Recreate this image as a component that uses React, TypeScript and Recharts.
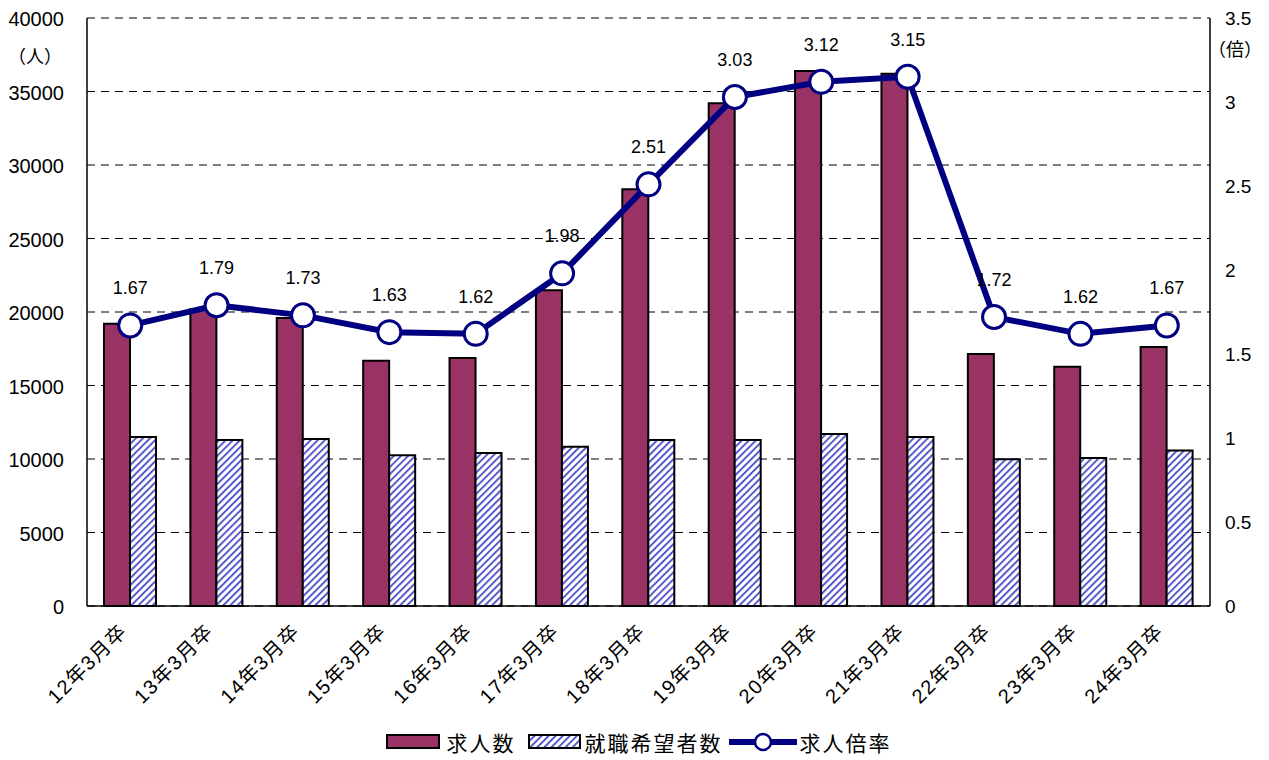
import React from "react";
import {
  ComposedChart,
  Bar,
  Line,
  XAxis,
  YAxis,
  CartesianGrid,
  Legend,
  LabelList,
  Label,
} from "recharts";

const categories = [
  "12年3月卒", "13年3月卒", "14年3月卒", "15年3月卒", "16年3月卒", "17年3月卒", "18年3月卒",
  "19年3月卒", "20年3月卒", "21年3月卒", "22年3月卒", "23年3月卒", "24年3月卒",
];
const openings = [19200, 20200, 19600, 16680, 16870, 21480, 28350, 34200, 36400, 36200, 17150, 16280, 17620];
const applicants = [11500, 11290, 11360, 10250, 10410, 10840, 11290, 11290, 11700, 11500, 9990, 10070, 10580];
const ratio = [1.67, 1.79, 1.73, 1.63, 1.62, 1.98, 2.51, 3.03, 3.12, 3.15, 1.72, 1.62, 1.67];
const leftTicks = [0, 5000, 10000, 15000, 20000, 25000, 30000, 35000, 40000];
const rightTicks = [0, 0.5, 1, 1.5, 2, 2.5, 3, 3.5];

const data = categories.map((c, i) => ({
  name: c,
  openings: openings[i],
  applicants: applicants[i],
  ratio: ratio[i],
}));

const FONT = '"Liberation Sans", "Noto Sans CJK JP", sans-serif';
const MAROON = "#993366";
const NAVY = "#000080";

const XTick = (props: any) => {
  const { x, y, payload } = props;
  return (
    <g transform={`translate(${x - 6},${y + 14})`}>
      <text
        transform="rotate(-45)"
        textAnchor="end"
        fontSize={20}
        letterSpacing={1.5}
        fill="#000"
        fontFamily={FONT}
        dy={6}
      >
        {payload.value}
      </text>
    </g>
  );
};

const RightTick = (props: any) => {
  const { y, payload } = props;
  return (
    <text x={1225} y={y} dy={7} textAnchor="start" fontSize={19} fill="#000" fontFamily={FONT}>
      {payload.value}
    </text>
  );
};

const RatioLabel = (props: any) => {
  const { x, y, value } = props;
  return (
    <text x={x} y={y - 31} textAnchor="middle" fontSize={18} fill="#000" fontFamily={FONT}>
      {Number(value).toFixed(2)}
    </text>
  );
};

const LegendContent = () => (
  <div
    style={{
      height: 36,
      display: "flex",
      justifyContent: "center",
      alignItems: "center",
      fontFamily: FONT,
      fontSize: 21,
      letterSpacing: 2,
      color: "#000",
      paddingLeft: 8,
    }}
  >
    <svg width={56} height={16} style={{ marginRight: 5 }}>
      <rect x={1} y={1} width={52} height={13} fill={MAROON} stroke="#000" strokeWidth={2} />
    </svg>
    <span style={{ marginRight: 12 }}>求人数</span>
    <svg width={54} height={16} style={{ marginRight: 3 }}>
      <defs>
        <pattern id="hatchLeg" patternUnits="userSpaceOnUse" width={5} height={5} patternTransform="rotate(45)">
          <rect width={5} height={5} fill="#fff" />
          <rect width={1.8} height={5} fill="#4a4ac8" />
        </pattern>
      </defs>
      <rect x={1} y={1} width={51} height={13} fill="url(#hatchLeg)" stroke="#000" strokeWidth={2} />
    </svg>
    <span style={{ marginRight: 6 }}>就職希望者数</span>
    <svg width={68} height={24} style={{ marginRight: 3 }}>
      <line x1={0} y1={12} x2={68} y2={12} stroke={NAVY} strokeWidth={6} />
      <circle cx={34} cy={12} r={8} fill="#fff" stroke={NAVY} strokeWidth={2.5} />
    </svg>
    <span>求人倍率</span>
  </div>
);

export default function App() {
  return (
    <div style={{ position: "absolute", left: 0, top: 0, background: "#fff" }}>
      <ComposedChart
        width={1269}
        height={760}
        data={data}
        margin={{ top: 18, right: 0, left: 0, bottom: 0 }}
        barGap={0}
      >
        <defs>
          <pattern id="hatch" patternUnits="userSpaceOnUse" width={5} height={5} patternTransform="rotate(45)">
            <rect width={5} height={5} fill="#fff" />
            <rect width={1.8} height={5} fill="#4a4ac8" />
          </pattern>
        </defs>
        <CartesianGrid yAxisId="left" vertical={false} stroke="#000" strokeDasharray="8 6" />
        <XAxis
          dataKey="name"
          height={118}
          interval={0}
          tick={<XTick />}
          tickLine={false}
          axisLine={{ stroke: "#000", strokeWidth: 1.5 }}
        />
        <YAxis
          yAxisId="left"
          width={87}
          domain={[0, 40000]}
          ticks={leftTicks}
          interval={0}
          tickLine={false}
          tickMargin={17}
          axisLine={{ stroke: "#000", strokeWidth: 1.5 }}
          tick={{ fontSize: 20, fill: "#000", fontFamily: FONT, dy: 1 }}
        >
          <Label
            content={() => (
              <text x={35} y={63} textAnchor="middle" fontSize={18} fill="#000" fontFamily={FONT}>
                （人）
              </text>
            )}
          />
        </YAxis>
        <YAxis
          yAxisId="right"
          orientation="right"
          width={59}
          domain={[0, 3.5]}
          ticks={rightTicks}
          interval={0}
          tickLine={false}
          axisLine={{ stroke: "#000", strokeWidth: 1.5 }}
          tick={<RightTick />}
        >
          <Label
            content={() => (
              <text x={1235} y={56} textAnchor="middle" fontSize={18} fill="#000" fontFamily={FONT}>
                （倍）
              </text>
            )}
          />
        </YAxis>
        <Legend verticalAlign="bottom" content={<LegendContent />} />
        <Bar
          yAxisId="left"
          dataKey="openings"
          name="求人数"
          fill={MAROON}
          stroke="#000"
          strokeWidth={2}
          barSize={26}
          isAnimationActive={false}
        />
        <Bar
          yAxisId="left"
          dataKey="applicants"
          name="就職希望者数"
          fill="url(#hatch)"
          stroke="#000"
          strokeWidth={2}
          barSize={26}
          isAnimationActive={false}
        />
        <Line
          yAxisId="right"
          dataKey="ratio"
          name="求人倍率"
          stroke={NAVY}
          strokeWidth={6}
          dot={{ r: 11.5, fill: "#fff", stroke: NAVY, strokeWidth: 3 }}
          activeDot={false}
          isAnimationActive={false}
        >
          <LabelList dataKey="ratio" content={<RatioLabel />} />
        </Line>
      </ComposedChart>
    </div>
  );
}
